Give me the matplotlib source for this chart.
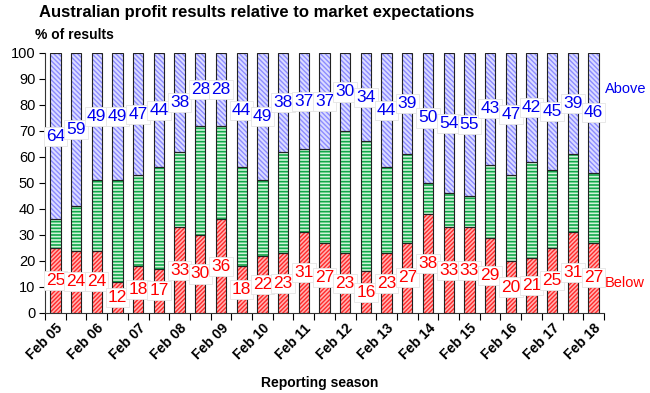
import matplotlib
matplotlib.use("Agg")
import matplotlib.pyplot as plt
import numpy as np

seasons = ["Feb 05", "Aug 05", "Feb 06", "Aug 06", "Feb 07", "Aug 07", "Feb 08", "Aug 08",
           "Feb 09", "Aug 09", "Feb 10", "Aug 10", "Feb 11", "Aug 11", "Feb 12", "Aug 12",
           "Feb 13", "Aug 13", "Feb 14", "Aug 14", "Feb 15", "Aug 15", "Feb 16", "Aug 16",
           "Feb 17", "Aug 17", "Feb 18"]
below = [25, 24, 24, 12, 18, 17, 33, 30, 36, 18, 22, 23, 31, 27, 23, 16, 23, 27, 38, 33, 33, 29, 20, 21, 25, 31, 27]
above = [64, 59, 49, 49, 47, 44, 38, 28, 28, 44, 49, 38, 37, 37, 30, 34, 44, 39, 50, 54, 55, 43, 47, 42, 45, 39, 46]
inline = [100 - a - b for a, b in zip(above, below)]

plt.rcParams['font.family'] = ['Liberation Sans', 'DejaVu Sans']

fig = plt.figure(figsize=(6.5, 3.93), dpi=100)
ax = fig.add_axes([45/650, 1 - 313/393, (604 - 45)/650, (313 - 53)/393])

x = np.arange(len(seasons))
w = 0.5
b_arr = np.array(below)
i_arr = np.array(inline)
a_arr = np.array(above)

plt.rcParams['hatch.linewidth'] = 1.0
ax.bar(x, b_arr, w, facecolor='#ffb4b4', edgecolor='#ff2a2a', hatch='////////', linewidth=0)
plt.rcParams['hatch.linewidth'] = 1.2
ax.bar(x, i_arr, w, bottom=b_arr, facecolor='#d0f4da', edgecolor='#10a848', hatch='-----', linewidth=0)
plt.rcParams['hatch.linewidth'] = 1.0
ax.bar(x, a_arr, w, bottom=b_arr + i_arr, facecolor='#dcdcff', edgecolor='#8c8cff', hatch='\\\\\\\\\\\\\\', linewidth=0)
for bot, h in [(0, b_arr), (b_arr, i_arr), (b_arr + i_arr, a_arr)]:
    ax.bar(x, h, w, bottom=bot, fill=False, edgecolor='#222222', linewidth=0.8)

bbox = dict(boxstyle='square,pad=0.12', facecolor='white', edgecolor='#e4e4e4', linewidth=0.6)
for xi, bv, iv, av in zip(x, below, inline, above):
    ax.text(xi, bv / 2, str(bv), color='#ff0000', ha='center', va='center', fontsize=12.5, bbox=bbox)
    ax.text(xi, bv + iv + av / 2, str(av), color='#0000ee', ha='center', va='center', fontsize=12.5, bbox=bbox)

ax.text(len(seasons) - 0.45, 86, "Above", color='#0000ee', fontsize=10.5, ha='left', va='center', clip_on=False)
ax.text(len(seasons) - 0.45, 11.5, "Below", color='#ff0000', fontsize=10.5, ha='left', va='center', clip_on=False)

ax.set_xlim(-0.5, len(seasons) - 0.5)
ax.set_ylim(0, 100)
ax.set_yticks(range(0, 101, 10))
ax.tick_params(axis='y', labelsize=10.5, length=4, direction='out', pad=3)

ax.set_xticks(np.arange(len(seasons) + 1) - 0.5)
ax.set_xticklabels([])
ax.tick_params(axis='x', which='major', length=5, direction='out')
ax.set_xticks(x[::2], minor=True)
ax.set_xticklabels(seasons[::2], minor=True, rotation=45, ha='right', rotation_mode='anchor',
                   fontsize=10, fontweight='bold')
ax.tick_params(axis='x', which='minor', length=0, pad=6)

for s in ['top', 'right']:
    ax.spines[s].set_visible(False)
for s in ['left', 'bottom']:
    ax.spines[s].set_color('#333333')

fig.text(257/650, 1 - 13/393, "Australian profit results relative to market expectations",
         ha='center', va='center', fontsize=12, fontweight='bold')
fig.text(35/650, 1 - 35/393, "% of results", ha='left', va='center', fontsize=10, fontweight='bold')
fig.text(320/650, 1 - 383/393, "Reporting season", ha='center', va='center', fontsize=10, fontweight='bold')

fig.savefig("out.png", dpi=100)
